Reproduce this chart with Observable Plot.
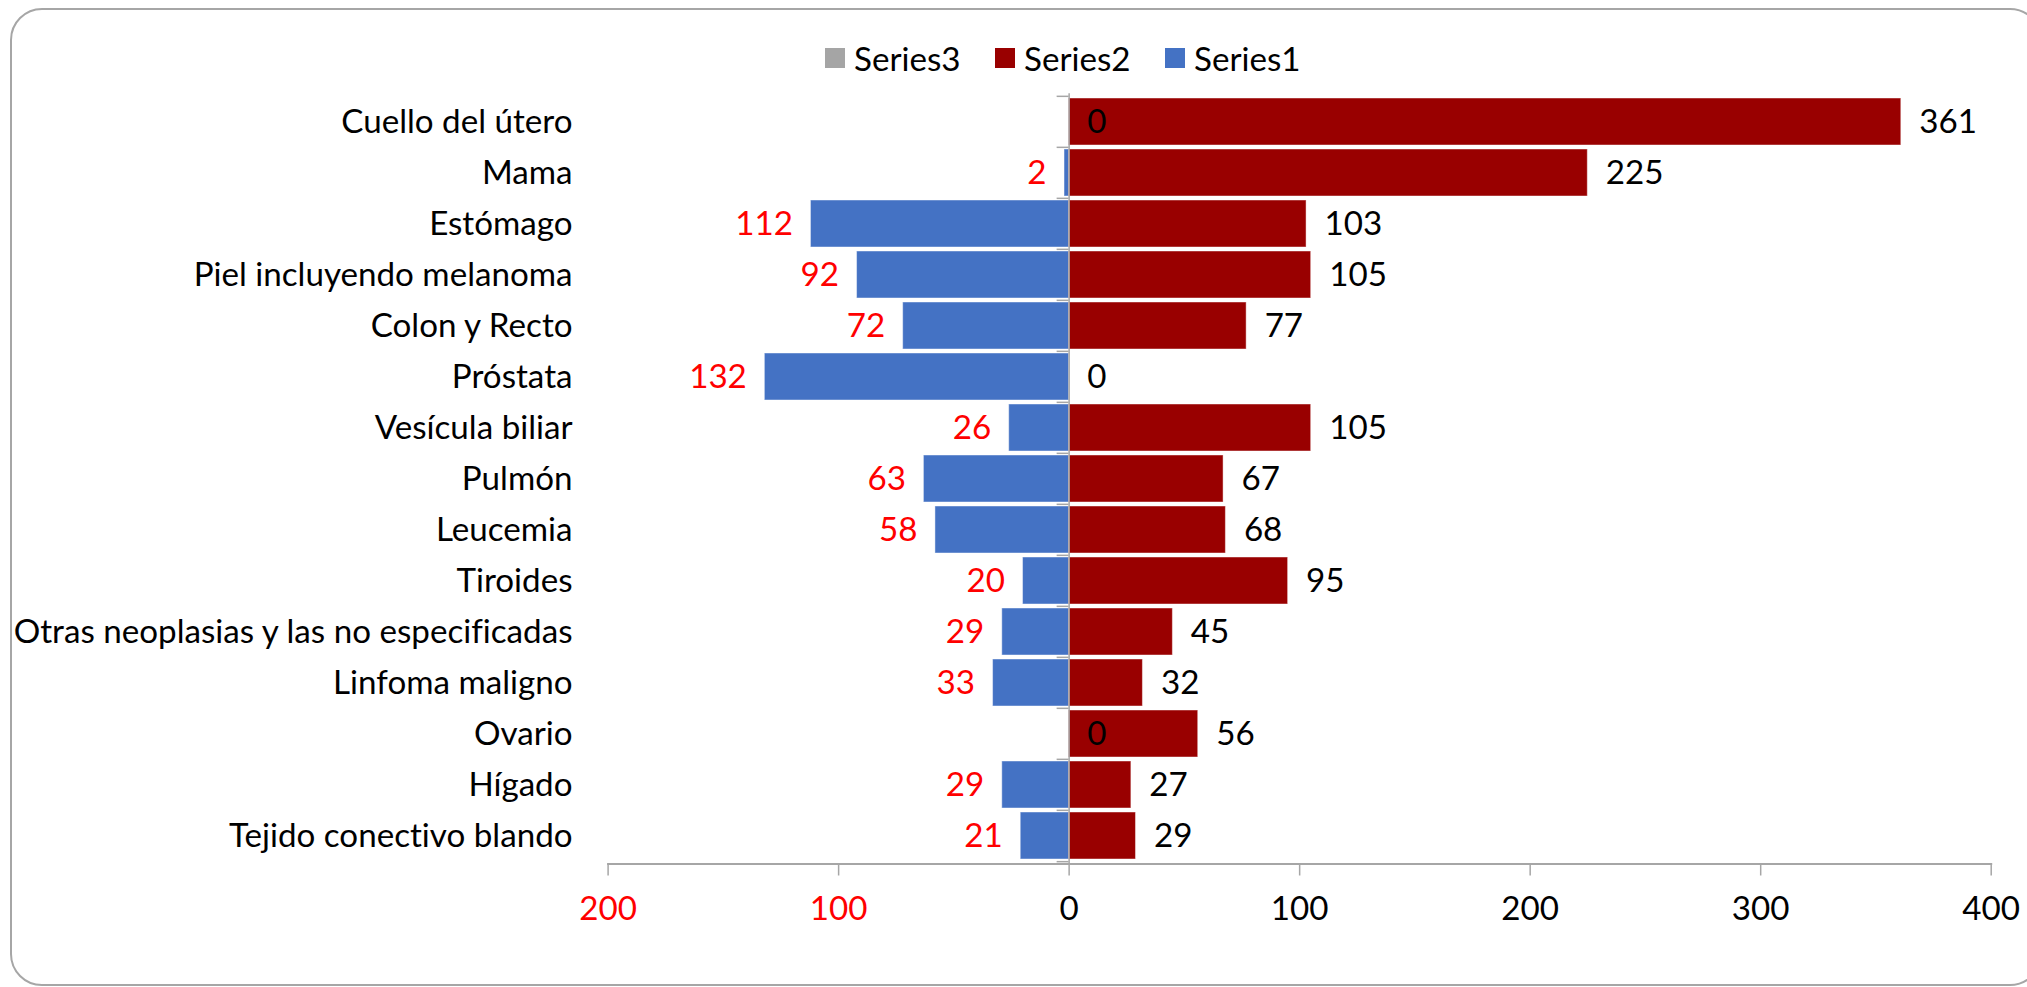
<!DOCTYPE html>
<html><head><meta charset="utf-8">
<script src="https://cdn.jsdelivr.net/npm/d3@7"></script>
<script src="https://cdn.jsdelivr.net/npm/@observablehq/plot@0.6"></script>
<style>
html,body{margin:0;padding:0;overflow:hidden;background:#fff;}
#wrap{position:relative;width:2027px;height:987px;overflow:hidden;}
#border{position:absolute;left:10px;top:8px;width:2032px;height:978px;border:2px solid #a6a6a6;border-radius:32px;box-sizing:border-box;}
#chart{position:absolute;left:0;top:0;}
#legend{position:absolute;left:0;top:0;}
.item{position:absolute;top:48px;height:20px;display:flex;align-items:center;white-space:nowrap;color:#000;font-variant-ligatures:none;}
.sw{width:20px;height:20px;margin-right:9px;flex:none;}
svg text{font-variant-ligatures:none;}
</style></head><body>
<div id="wrap"><div id="border"></div><div id="chart"></div><div id="legend"></div></div>
<script>
const categories = ["Cuello del útero","Mama","Estómago","Piel incluyendo melanoma","Colon y Recto","Próstata","Vesícula biliar","Pulmón","Leucemia","Tiroides","Otras neoplasias y las no especificadas","Linfoma maligno","Ovario","Hígado","Tejido conectivo blando"];
const series1 = [0,2,112,92,72,132,26,63,58,20,29,33,0,29,21];
const series2 = [361,225,103,105,77,0,105,67,68,95,45,32,56,27,29];
const legendNames = ["Series3","Series2","Series1"];
const legendColors = ["#a5a5a5","#990000","#4472c4"];
const negTicks = [-200,-100];
const posTicks = [0,100,200,300,400];

const rows = categories.map((c,i)=>({cat:c, s1:series1[i], s2:series2[i]}));

const FONT = "Lato, 'Noto Sans', sans-serif";
const ctx = document.createElement("canvas").getContext("2d");
ctx.font = "100px Lato";
const FS = Math.min(34, 100*560/ctx.measureText("Otras neoplasias y las no especificadas").width);

const W=2027, H=987;
const mL=607.6, mR=W-1990.7, mT=93.3, mB=H-863.5;
const pxPerUnit=(W-mL-mR)/600;
const step=(H-mT-mB)/categories.length;
const gray="#a6a6a6";

const chart = Plot.plot({
  width:W, height:H, marginLeft:mL, marginRight:mR, marginTop:mT, marginBottom:mB,
  style:{fontFamily:FONT, fontSize:FS+"px", color:"#000", background:"transparent", overflow:"visible"},
  x:{domain:[-200,400]},
  y:{domain:categories, paddingInner:0.08, paddingOuter:0.04},
  marks:[
    Plot.barX(rows,{y:"cat", x1:0, x2:d=>-d.s1, fill:"#4472c4", stroke:"#fff", strokeOpacity:0.45, strokeWidth:1}),
    Plot.barX(rows,{y:"cat", x1:0, x2:"s2", fill:"#990000", stroke:"#fff", strokeOpacity:0.45, strokeWidth:1}),
    Plot.ruleX([0],{stroke:gray, strokeWidth:1.5}),
    Plot.ruleY(categories,{y:d=>d, x1:-12/pxPerUnit, x2:0, dy:-step/2, stroke:gray, strokeWidth:1.5}),
    Plot.ruleY(categories.slice(-1),{y:d=>d, x1:-12/pxPerUnit, x2:0, dy:step/2, stroke:gray, strokeWidth:1.5}),
    Plot.frame({anchor:"bottom", stroke:gray, strokeWidth:2}),
    Plot.axisY({anchor:"left", tickSize:0, tickPadding:35.6, label:null, fill:"#000"}),
    Plot.axisX(negTicks,{anchor:"bottom", tickSize:12, tickPadding:20, tickFormat:d=>String(Math.abs(d)), fill:"#ff0000", stroke:gray, strokeWidth:1.5, label:null}),
    Plot.axisX(posTicks,{anchor:"bottom", tickSize:12, tickPadding:20, tickFormat:d=>String(d), fill:"#000", stroke:gray, strokeWidth:1.5, label:null}),
    Plot.text(rows.filter(d=>d.s1>0),{y:"cat", x:d=>-d.s1, text:d=>String(d.s1), textAnchor:"end", dx:-18, fill:"#ff0000"}),
    Plot.text(rows.filter(d=>d.s1===0),{y:"cat", x:0, text:d=>String(d.s1), textAnchor:"start", dx:18, fill:"#000"}),
    Plot.text(rows,{y:"cat", x:"s2", text:d=>String(d.s2), textAnchor:"start", dx:18, fill:"#000"})
  ]
});
document.getElementById("chart").appendChild(chart);

const legend = document.getElementById("legend");
const swX = [825, 995, 1165];
legendNames.forEach((n,i)=>{
  const it=document.createElement("div");
  it.className="item";
  it.style.left=swX[i]+"px";
  it.style.fontFamily=FONT;
  it.style.fontSize=FS+"px";
  it.innerHTML=`<span class="sw" style="background:${legendColors[i]}"></span><span>${n}</span>`;
  legend.appendChild(it);
});
</script>
</body></html>
